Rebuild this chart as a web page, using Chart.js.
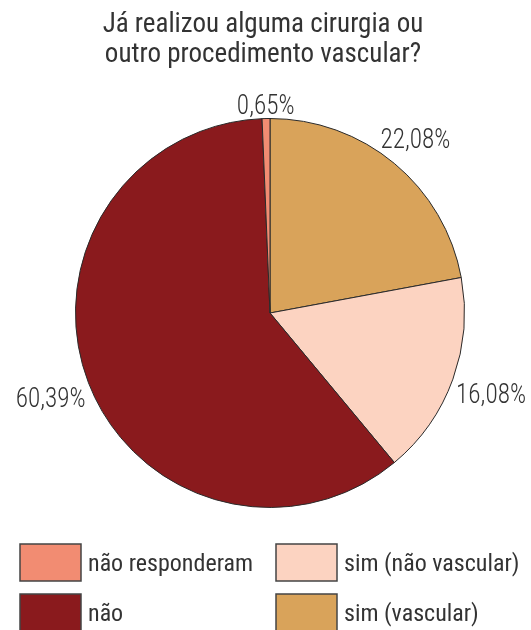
<!DOCTYPE html>
<html>
<head>
<meta charset="utf-8">
<script src="https://cdn.jsdelivr.net/npm/chart.js@4/dist/chart.umd.min.js"></script>
<style>
  html, body { margin: 0; padding: 0; background: #fff; }
  #wrap { width: 531px; height: 630px; }
</style>
</head>
<body>
<div id="wrap"><canvas id="pieChart" width="531" height="630"></canvas></div>
<script>
// DATA (clockwise from the top)
const titleLines = ["Já realizou alguma cirurgia ou", "outro procedimento vascular?"];
const categories = ["sim (vascular)", "sim (não vascular)", "não", "não responderam"];
// slice sizes as drawn in the picture (the printed 16,08% slice is drawn about 16,9% wide)
const percents = [22.08, 16.88, 60.39, 0.65];
const percentLabels = ["22,08%", "16,08%", "60,39%", "0,65%"];
const colors = ["#D9A35A", "#FCD3C1", "#8A1A1D", "#F28C72"];
// legend order, read row by row
const legendOrder = ["não responderam", "sim (não vascular)", "não", "sim (vascular)"];

const FONT = "'Roboto Condensed', 'Liberation Sans Narrow', 'Arial Narrow', Roboto, sans-serif";
const TEXT = "#333333";

// draws text squeezed horizontally, like the narrow face of the original
function squeezed(ctx, text, x, y, sx) {
  ctx.save();
  ctx.translate(x, y);
  ctx.scale(sx, 1);
  ctx.fillText(text, 0, 0);
  ctx.restore();
}

const extrasPlugin = {
  id: "extras",
  afterDraw(chart) {
    const ctx = chart.ctx;
    ctx.save();
    ctx.fillStyle = TEXT;

    //TITLE
    ctx.font = "400 27px " + FONT;
    ctx.textAlign = "center";
    ctx.textBaseline = "alphabetic";
    squeezed(ctx, titleLines[0], 263, 32, 1.0);
    squeezed(ctx, titleLines[1], 263, 62, 1.0);

    //PERCENT LABELS OUTSIDE EACH SLICE
    const sx = 0.9;
    ctx.font = "300 28px " + FONT;
    ctx.textAlign = "center";
    ctx.textBaseline = "alphabetic";
    const arcs = chart.getDatasetMeta(0).data;
    arcs.forEach((arc, i) => {
      const p = arc.getProps(["x", "y", "startAngle", "endAngle", "outerRadius"], true);
      const mid = (p.startAngle + p.endAngle) / 2;
      const dx = Math.cos(mid), dy = Math.sin(mid);
      const m = ctx.measureText(percentLabels[i]);
      const w = m.width * sx, h = m.actualBoundingBoxAscent;
      const gap = p.outerRadius + 4;
      let d = gap;
      // push out until the nearest point of the text box clears the circle
      for (let k = 0; k < 300; k++) {
        const cx = p.x + dx * d, cy = p.y + dy * d;
        const nx = Math.max(cx - w / 2, Math.min(p.x, cx + w / 2));
        const ny = Math.max(cy - h / 2, Math.min(p.y, cy + h / 2));
        if (Math.hypot(nx - p.x, ny - p.y) >= gap) break;
        d += 0.5;
      }
      squeezed(ctx, percentLabels[i], p.x + dx * d, p.y + dy * d + h / 2, sx);
    });

    //LEGEND IN TWO COLUMNS
    ctx.font = "24px " + FONT;
    ctx.textAlign = "left";
    ctx.textBaseline = "alphabetic";
    ctx.lineWidth = 1.5;
    ctx.strokeStyle = "#444444";
    legendOrder.forEach((name, j) => {
      const idx = categories.indexOf(name);
      const col = j % 2, row = Math.floor(j / 2);
      const bx = 20 + col * 256, by = 544 + row * 50;
      ctx.fillStyle = colors[idx];
      ctx.fillRect(bx, by, 61, 37);
      ctx.strokeRect(bx, by, 61, 37);
      ctx.fillStyle = TEXT;
      ctx.fillText(name, bx + 68, by + 27);
    });
    ctx.restore();
  },
};

new Chart(document.getElementById("pieChart"), {
  type: "pie",
  data: {
    labels: categories,
    datasets: [
      {
        data: percents,
        backgroundColor: colors,
        borderColor: "#2a2a2a",
        borderWidth: 1,
        hoverOffset: 0,
      },
    ],
  },
  options: {
    responsive: false,
    animation: false,
    layout: { padding: { top: 118, bottom: 122, left: 75, right: 66 } },
    plugins: {
      legend: { display: false },
      title: { display: false },
      tooltip: { enabled: false },
    },
  },
  plugins: [extrasPlugin],
});
</script>
</body>
</html>
